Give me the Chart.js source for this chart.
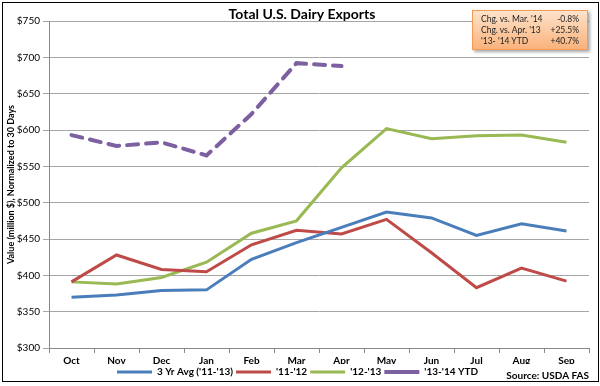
<!DOCTYPE html>
<html>
<head>
<meta charset="utf-8">
<script src="https://cdn.jsdelivr.net/npm/chart.js@4/dist/chart.umd.min.js"></script>
<style>
  html, body { margin: 0; padding: 0; background: #fff; }
  #wrap { position: relative; width: 600px; height: 386px; }
  #statBox {
    position: absolute; left: 472px; top: 10px; width: 116px; height: 40px;
    background: linear-gradient(#fde3cb, #fab27b);
    border: 1px solid #f59a55;
    box-shadow: 2px 2px 3px rgba(0,0,0,0.35);
    font: 8.5px Lato, "Liberation Sans", sans-serif; color: #222;
    padding: 3px 8px 0 8px; box-sizing: border-box;
  }
  #statBox div { display: flex; justify-content: space-between; line-height: 11px; }
</style>
</head>
<body>
<div id="wrap">
  <canvas id="myChart" width="600" height="386"></canvas>
  <div id="statBox">
    <div><span>Chg. vs. Mar. '14</span><span>-0.8%</span></div>
    <div><span>Chg. vs. Apr. '13</span><span>+25.5%</span></div>
    <div><span>'13- '14 YTD</span><span>+40.7%</span></div>
  </div>
</div>
<script>
var months = ['Oct', 'Nov', 'Dec', 'Jan', 'Feb', 'Mar', 'Apr', 'May', 'Jun', 'Jul', 'Aug', 'Sep'];
var avg3yr = [370, 373, 379, 380, 422, 445, 466, 487, 479, 455, 471, 461];
var fy1112 = [391, 428, 408, 405, 442, 462, 457, 477, 431, 383, 410, 392];
var fy1213 = [391, 388, 397, 418, 458, 475, 548, 602, 588, 592, 593, 583];
var fy1314 = [593, 578, 583, 565, 622, 692, 688];

var FONT = "Lato, 'Liberation Sans', sans-serif";

// title, source note and the outer frame
var extras = {
  id: 'extras',
  afterDraw: function(chart) {
    var ctx = chart.ctx;
    ctx.save();
    ctx.fillStyle = '#000';
    ctx.font = 'bold 14px ' + FONT;
    ctx.textAlign = 'center';
    ctx.textBaseline = 'middle';
    ctx.fillText('Total U.S. Dairy Exports', 302, 14);
    ctx.font = 'bold 10px ' + FONT;
    ctx.textAlign = 'right';
    ctx.fillText('Source: USDA FAS', 589, 376);
    ctx.strokeStyle = '#000';
    ctx.lineWidth = 1;
    ctx.strokeRect(2.5, 2.5, 596, 379);
    ctx.restore();
  }
};

var ctx = document.getElementById('myChart').getContext('2d');

var myChart = new Chart(ctx, {
  type: 'line',
  data: {
    labels: months,
    datasets: [
      { label: "3 Yr Avg ('11-'13)", data: avg3yr, borderColor: '#4a7ebb', backgroundColor: '#4a7ebb', borderWidth: 3 },
      { label: "'11-'12", data: fy1112, borderColor: '#be4b48', backgroundColor: '#be4b48', borderWidth: 3 },
      { label: "'12-'13", data: fy1213, borderColor: '#98b954', backgroundColor: '#98b954', borderWidth: 3 },
      { label: "'13-'14 YTD", data: fy1314, borderColor: '#7d60a0', backgroundColor: '#7d60a0', borderWidth: 4,
        borderDash: [11, 8], borderCapStyle: 'round' }
    ]
  },
  options: {
    responsive: false,
    animation: false,
    layout: { padding: { left: 6, right: 11, top: 21, bottom: -1 } },
    elements: { point: { radius: 0 }, line: { tension: 0 } },
    plugins: {
      title: { display: false },
      tooltip: { enabled: false },
      legend: {
        position: 'bottom',
        labels: {
          usePointStyle: true,
          pointStyle: 'line',
          pointStyleWidth: 35,
          boxHeight: 4,
          padding: 3,
          color: '#000',
          font: { family: FONT, size: 10, weight: 'bold' }
        }
      }
    },
    scales: {
      x: {
        offset: true,
        afterFit: function(s) { s.height = 16; },
        grid: { offset: true, drawOnChartArea: false, color: '#888', tickLength: 5 },
        border: { color: '#888' },
        ticks: { color: '#000', padding: 2, font: { family: FONT, size: 10, weight: 'bold' } }
      },
      y: {
        min: 300, max: 750,
        afterFit: function(s) { s.width = 43; },
        grid: { color: '#a6a6a6', tickLength: 6 },
        border: { color: '#888' },
        ticks: {
          stepSize: 50, color: '#000', padding: 3,
          font: { family: FONT, size: 10 },
          callback: function(v) { return '$' + v; }
        },
        title: {
          display: true, text: 'Value (million $), Normalized to 30 Days',
          color: '#000', padding: 0,
          font: { family: FONT, size: 9, weight: 'bold' }
        }
      }
    }
  },
  plugins: [extras]
});
</script>
</body>
</html>
